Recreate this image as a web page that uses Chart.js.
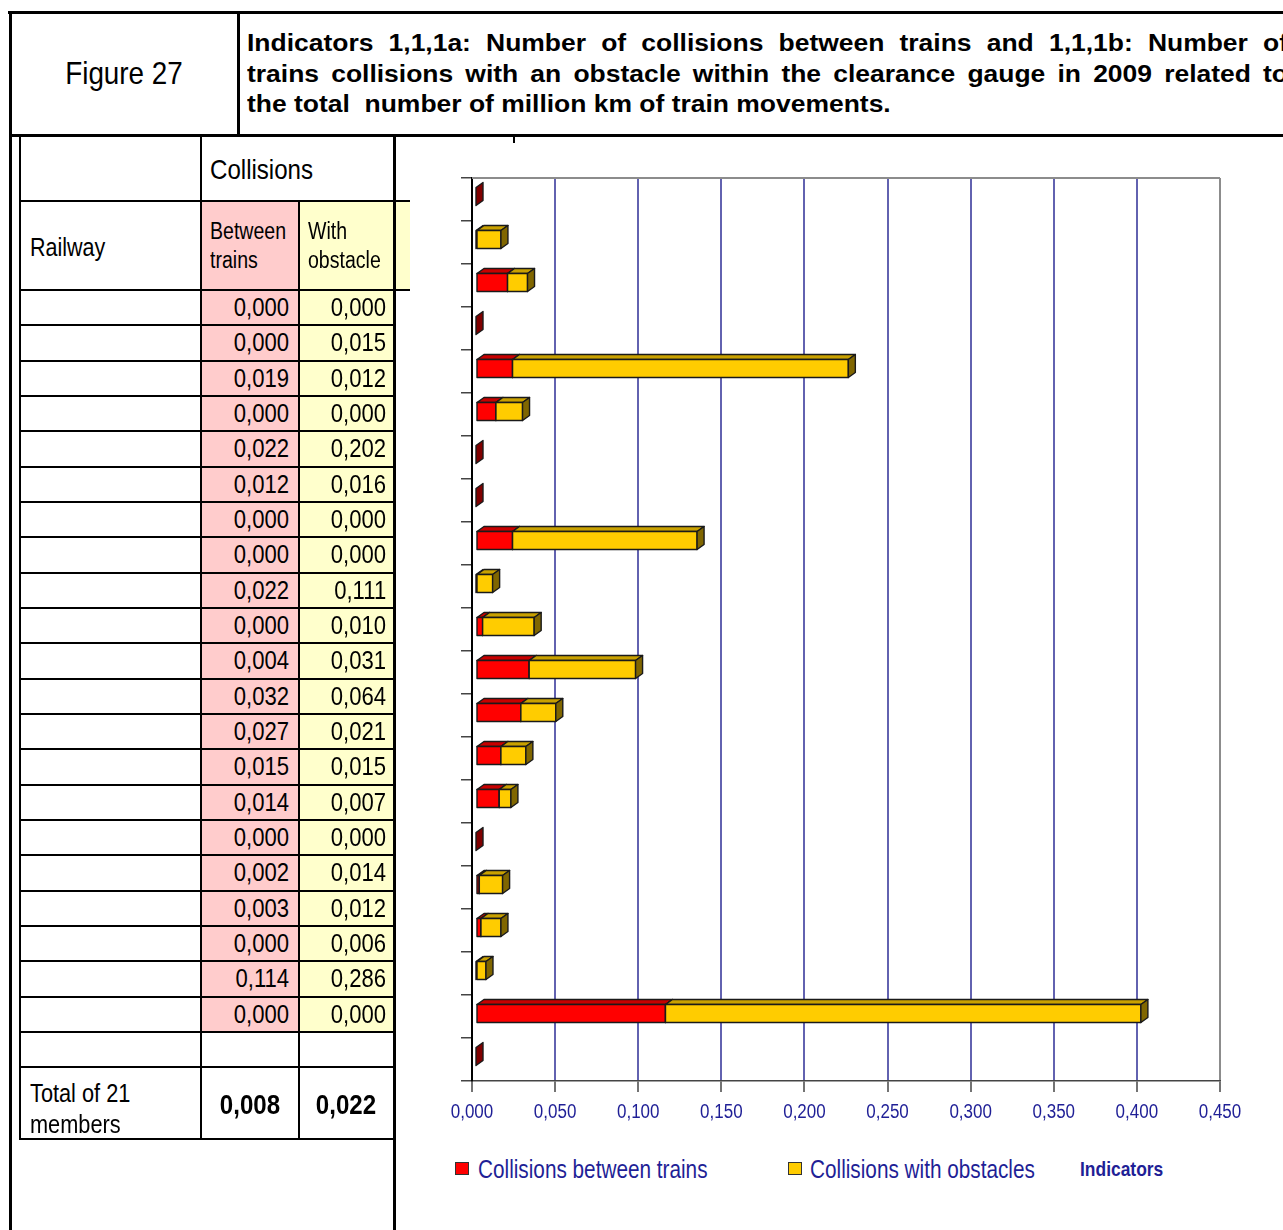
<!DOCTYPE html>
<html>
<head>
<meta charset="utf-8">
<script src="https://cdn.jsdelivr.net/npm/chart.js@4.4.1/dist/chart.umd.min.js"></script>
<style>
  html, body { margin: 0; padding: 0; background: #fff; }
  body { width: 1283px; height: 1230px; position: relative; overflow: hidden; }
  .ln { position: absolute; background: #000; }
  .fill { position: absolute; }
  .txt { position: absolute; white-space: nowrap; color: #000;
         font-family: 'Liberation Sans', Arial, sans-serif; }
  #title { position: absolute; left: 247px; top: 28px; transform-origin: 0 0;
           font: bold 23px 'Liberation Sans', Arial, sans-serif; line-height: 30.5px; color: #000; }
  #title .j { text-align: justify; text-align-last: justify; white-space: nowrap; }
  #title .l { white-space: pre; }
  #chartBox { position: absolute; left: 400px; top: 140px; width: 883px; height: 1001px; }
  .legBox { position: absolute; border: 1.5px solid #333; }
</style>
</head>
<body>
<div id="title">
  <div class="j">Indicators 1,1,1a: Number of collisions between trains and 1,1,1b: Number of</div>
  <div class="j">trains collisions with an obstacle within the clearance gauge in 2009 related to</div>
  <div class="l">the total  number of million km of train movements.</div>
</div>
<div id="chartBox"><canvas id="c" width="883" height="1001"></canvas></div>

<script>
// Collision indicators per railway (per million train-km), 2009
const railways = ['', '', '', '', '', '', '', '', '', '', '', '', '', '', '', '', '', '', '', '', ''];
const betweenTrains = [0.000, 0.000, 0.019, 0.000, 0.022, 0.012, 0.000, 0.000, 0.022, 0.000, 0.004,
                       0.032, 0.027, 0.015, 0.014, 0.000, 0.002, 0.003, 0.000, 0.114, 0.000];
const withObstacle  = [0.000, 0.015, 0.012, 0.000, 0.202, 0.016, 0.000, 0.000, 0.111, 0.010, 0.031,
                       0.064, 0.021, 0.015, 0.007, 0.000, 0.014, 0.012, 0.006, 0.286, 0.000];
const totalBetween = 0.008;
const totalObstacle = 0.022;
const seriesLabels = ['Collisions between trains', 'Collisions with obstacles'];
const axisTitle = 'Indicators';

const NAVY = '#1f1f96';
const FONT = "'Liberation Sans', Arial, sans-serif";
const NARROW = 0.85;               // horizontal squeeze giving a condensed face
const fmt = v => v.toFixed(3).replace('.', ',');

// ---------- frame and table ----------
const body = document.body;
function box(cls, x, y, w, h, bg) {
  const d = document.createElement('div');
  d.className = cls;
  Object.assign(d.style, { left: x + 'px', top: y + 'px', width: w + 'px', height: h + 'px' });
  if (bg) d.style.background = bg;
  body.appendChild(d);
  return d;
}
const hline = (x1, x2, y, w) => box('ln', x1, y - w / 2, x2 - x1, w);
const vline = (x, y1, y2, w) => box('ln', x - w / 2, y1, w, y2 - y1);
function text(str, x, yc, size, opts = {}) {
  const d = document.createElement('div');
  d.className = 'txt';
  d.textContent = str;
  const sx = opts.sx || NARROW;
  d.style.fontSize = size + 'px';
  d.style.lineHeight = size * 1.2 + 'px';
  d.style.top = (yc - size * 0.6) + 'px';
  if (opts.bold) d.style.fontWeight = 'bold';
  if (opts.color) d.style.color = opts.color;
  if (opts.align === 'right') {
    d.style.right = (1283 - x) + 'px';
    d.style.transformOrigin = '100% 50%';
    d.style.transform = 'scaleX(' + sx + ')';
  } else if (opts.align === 'center') {
    d.style.left = x + 'px';
    d.style.transform = 'translateX(-50%) scaleX(' + sx + ')';
  } else {
    d.style.left = x + 'px';
    d.style.transformOrigin = '0 50%';
    d.style.transform = 'scaleX(' + sx + ')';
  }
  body.appendChild(d);
  return d;
}

const ROW_TOP = 290, ROW_H = (1032 - 290) / railways.length;
const C0 = 20, C1 = 201, C2 = 299, C3 = 394;

// cell fills
box('fill', C1, 201, C2 - C1, 1032 - 201, '#ffcccc');
box('fill', C2, 201, C3 - C2, 1032 - 201, '#ffffcc');
box('fill', C3, 201, 16, 89, '#ffffcc');

// outer frame
hline(8, 1283, 12.5, 3);
vline(10.5, 11, 1230, 3);
vline(238.5, 11, 135, 3);
hline(9, 1283, 135, 3);
vline(394, 134, 1230, 3);
vline(514, 135, 143, 2);

// table grid
vline(C0, 135, 1140, 2);
vline(C1, 135, 1140, 2);
vline(C2, 201, 1140, 2);
hline(C0, 410, 201, 2);
hline(C0, 410, 290, 2);
for (let k = 1; k <= railways.length; k++) hline(C0, C3, ROW_TOP + k * ROW_H, 2);
hline(C0, C3, 1067, 2);
hline(C0, C3 + 1, 1139, 2);

// header texts
text('Figure 27', 124, 73, 32, { align: 'center', sx: 0.87 });
text('Collisions', 210, 170, 28, { sx: 0.86 });
text('Railway', 30, 247, 25, { sx: 0.86 });
text('Between', 210, 232, 23);
text('trains', 210, 261, 23);
text('With', 308, 232, 23);
text('obstacle', 308, 261, 23);

railways.forEach((name, i) => {
  const yc = ROW_TOP + (i + 0.5) * ROW_H;
  if (name) text(name, 30, yc, 25);
  text(fmt(betweenTrains[i]), 289, yc, 26, { align: 'right' });
  text(fmt(withObstacle[i]), 386, yc, 26, { align: 'right' });
});
text('Total of 21', 30, 1093, 25, { sx: 0.87 });
text('members', 30, 1124, 25, { sx: 0.87 });
text(fmt(totalBetween), 250, 1105, 28, { align: 'center', bold: true, sx: 0.86 });
text(fmt(totalObstacle), 346, 1105, 28, { align: 'center', bold: true, sx: 0.86 });

// justified title, slightly widened
(function () {
  const t = document.getElementById('title');
  const sx = 1.15;
  t.style.width = ((1288 - 247) / sx) + 'px';
  t.style.transform = 'scaleX(' + sx + ')';
})();

// ---------- chart ----------
const faces = [
  { front: '#ff0000', top: '#c80000', side: '#800000' },
  { front: '#ffcc00', top: '#c9a100', side: '#806600' }
];
const DX = 7, DY = 5, SX = 4, SY = -3;

// bars drawn as extruded boxes from the bar elements' own geometry
const bars3d = {
  id: 'bars3d',
  beforeDatasetsDraw(chart) {
    const ctx = chart.ctx;
    const metas = chart.data.datasets.map((d, i) => chart.getDatasetMeta(i));
    ctx.save();
    ctx.lineWidth = 1.4;
    ctx.strokeStyle = '#1a1a1a';
    ctx.lineJoin = 'round';
    const poly = (pts, fill) => {
      ctx.beginPath();
      ctx.moveTo(pts[0][0], pts[0][1]);
      for (let k = 1; k < pts.length; k++) ctx.lineTo(pts[k][0], pts[k][1]);
      ctx.closePath();
      ctx.fillStyle = fill;
      ctx.fill();
      ctx.stroke();
    };
    for (let i = 0; i < chart.data.labels.length; i++) {
      metas.forEach((meta, di) => {
        const el = meta.data[i];
        const p = el.getProps(['x', 'base', 'y', 'height'], true);
        const l = Math.min(p.x, p.base) + SX, r = Math.max(p.x, p.base) + SX;
        const t = p.y - p.height / 2 + SY, b = t + p.height;
        const f = faces[di];
        if (r - l > 0.5) {
          poly([[l, t], [l + DX, t - DY], [r + DX, t - DY], [r, t]], f.top);
          poly([[l, t], [r, t], [r, b], [l, b]], f.front);
          poly([[r, t], [r + DX, t - DY], [r + DX, b - DY], [r, b]], f.side);
        } else if (di === 0) {
          poly([[r, t], [r + DX, t - DY], [r + DX, b - DY], [r, b]], f.side);
        }
      });
    }
    ctx.restore();
    return false;
  }
};

// light frame on the top of the plot area
const plotFrame = {
  id: 'plotFrame',
  beforeDatasetsDraw(chart) {
    const { ctx, chartArea: a } = chart;
    ctx.save();
    ctx.strokeStyle = '#8c8c8c';
    ctx.lineWidth = 2;
    ctx.beginPath();
    ctx.moveTo(a.left, a.top);
    ctx.lineTo(a.right, a.top);
    ctx.stroke();
    ctx.restore();
  }
};

// value labels of the x scale, written in a condensed face
const xLabels = {
  id: 'xLabels',
  afterDraw(chart) {
    const s = chart.scales.x;
    const ctx = chart.ctx;
    const y = s.bottom - s.height + 11 + 8 + 12;
    ctx.save();
    ctx.fillStyle = NAVY;
    ctx.font = '20px ' + FONT;
    ctx.textAlign = 'center';
    ctx.textBaseline = 'middle';
    s.ticks.forEach(t => {
      const px = s.getPixelForValue(t.value);
      ctx.save();
      ctx.translate(px, y);
      ctx.scale(NARROW, 1);
      ctx.fillText(fmt(t.value), 0, 0);
      ctx.restore();
    });
    ctx.restore();
  }
};

const chart = new Chart(document.getElementById('c'), {
  type: 'bar',
  data: {
    labels: railways,
    datasets: [
      { label: seriesLabels[0], data: betweenTrains, backgroundColor: faces[0].front, barThickness: 18 },
      { label: seriesLabels[1], data: withObstacle, backgroundColor: faces[1].front, barThickness: 18 }
    ]
  },
  options: {
    indexAxis: 'y',
    responsive: false,
    animation: false,
    layout: { padding: { left: 0, top: 38, right: 63, bottom: 0 } },
    plugins: { legend: { display: false }, tooltip: { enabled: false } },
    scales: {
      x: {
        stacked: true,
        min: 0,
        max: 0.45,
        ticks: {
          stepSize: 0.05,
          color: 'rgba(0,0,0,0)',
          padding: 8,
          font: { family: FONT, size: 17 },
          callback: v => fmt(v)
        },
        grid: {
          color: c => (c.tick && c.tick.value === 0) ? 'rgba(0,0,0,0)'
                    : (c.tick && c.tick.value > 0.449) ? '#8c8c8c' : '#6262b0',
          lineWidth: 2,
          tickLength: 11,
          tickColor: '#444',
          tickWidth: 1.5
        },
        border: { color: '#444', width: 1.5 },
        afterFit: s => { s.height = 60; }
      },
      y: {
        stacked: true,
        ticks: { display: false },
        grid: { offset: true, drawOnChartArea: false, tickLength: 11, color: '#444', lineWidth: 1.5 },
        border: { color: '#000', width: 2 },
        afterFit: s => { s.width = 72; }
      }
    }
  },
  plugins: [plotFrame, bars3d, xLabels]
});

// ---------- legend ----------
const legendX = [[455, 478], [788, 810]];
chart.data.datasets.forEach((ds, i) => {
  box('legBox', legendX[i][0], 1162, 12, 11, ds.backgroundColor);
  text(ds.label, legendX[i][1], 1169, 25, { sx: 0.83, color: NAVY });
});
text(axisTitle, 1080, 1169, 21, { sx: 0.83, bold: true, color: NAVY });
</script>
</body>
</html>
